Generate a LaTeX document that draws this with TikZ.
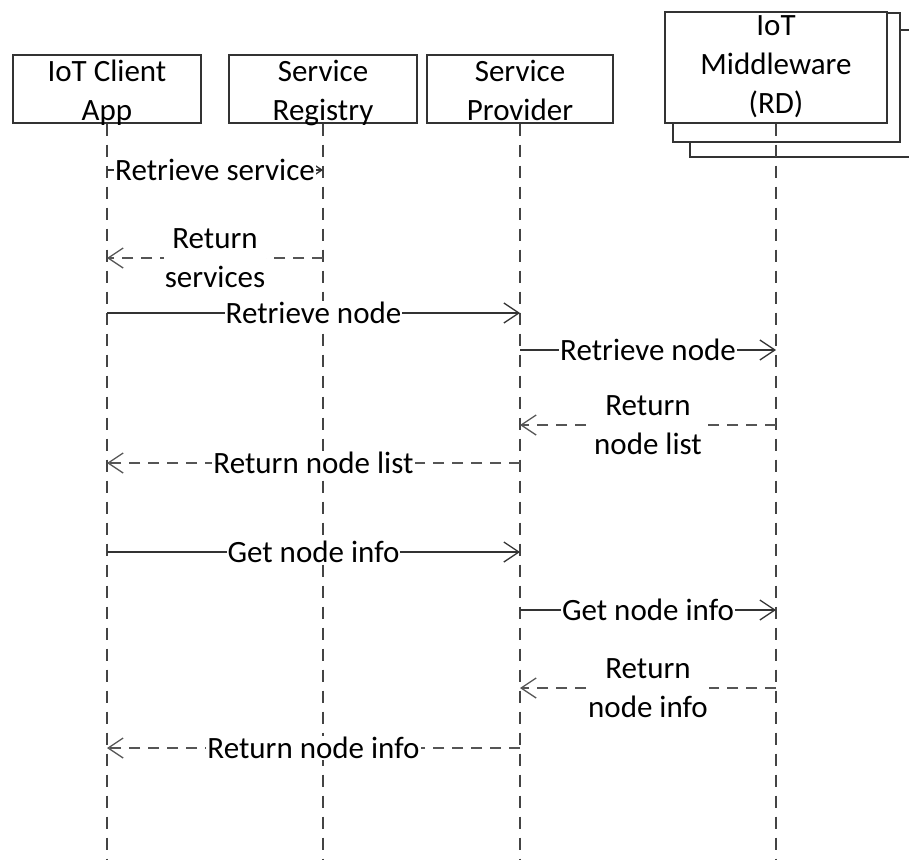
\documentclass[tikz,border=0pt]{standalone}
\usepackage{fontspec}
\setmainfont{Carlito}
\usetikzlibrary{arrows.meta}
\definecolor{ln}{HTML}{333333}
\definecolor{dl}{HTML}{444444}
\definecolor{rl}{HTML}{555555}
\begin{document}
\begin{tikzpicture}[x=1pt,y=-1pt,
  font=\fontsize{31}{39}\selectfont,
  box/.style={draw=ln, line width=1.3pt, fill=white, inner sep=0pt},
  boxtext/.style={align=center, inner sep=0pt, text=black, font=\fontsize{31}{39}\selectfont},
  life/.style={draw=dl, line width=1.3pt, dash pattern=on 12pt off 9pt},
  msg/.style={draw=ln, line width=1.3pt, -{Straight Barb[length=15pt,width=20pt]}},
  ret/.style={msg, draw=rl, dash pattern=on 11pt off 8pt},
  lbl/.style={fill=white, inner sep=1pt, align=center, text=black, font=\fontsize{31}{39}\selectfont}]
\useasboundingbox (0,0) rectangle (909,859);
% participants
\node[box, minimum width=188pt, minimum height=68pt] (client) at (107,89) {};
\node[boxtext] (clientT) at (107,93.5) {IoT Client\strut\\App\strut};
\node[box, minimum width=188pt, minimum height=68pt] (reg) at (323,89) {};
\node[boxtext] (regT) at (323,93.5) {Service\strut\\Registry\strut};
\node[box, minimum width=186pt, minimum height=68pt] (prov) at (520,89) {};
\node[boxtext] (provT) at (520,93.5) {Service\strut\\Provider\strut};
\node[box, minimum width=227pt, minimum height=127pt] (mw3) at (803.5,93.5) {};
\node[box, minimum width=227pt, minimum height=129pt] (mw2) at (786.5,77.5) {};
\node[box, minimum width=222pt, minimum height=111pt] (mw) at (776,67.5) {};
\node[boxtext] (mwT) at (776,67) {IoT\strut\\Middleware\strut\\(RD)\strut};
% lifeline ends
\coordinate (clientE) at (107,859);
\coordinate (regE) at (323,859);
\coordinate (provE) at (520,859);
\coordinate (mwE) at (776,859);
\draw[life] (client.south) -- (clientE);
\draw[life] (reg.south) -- (regE);
\draw[life] (prov.south) -- (provE);
\draw[life] (mw.south) -- (mwE);
% message end points
\coordinate (c1) at (107,170); \coordinate (r1) at (323,170);
\coordinate (c2) at (107,258); \coordinate (r2) at (323,258);
\coordinate (c3) at (107,313); \coordinate (p3) at (520,313);
\coordinate (p4) at (520,350); \coordinate (m4) at (776,350);
\coordinate (p5) at (520,425); \coordinate (m5) at (776,425);
\coordinate (c6) at (107,463); \coordinate (p6) at (520,463);
\coordinate (c7) at (107,552); \coordinate (p7) at (520,552);
\coordinate (p8) at (520,610); \coordinate (m8) at (776,610);
\coordinate (p9) at (520,688); \coordinate (m9) at (776,688);
\coordinate (c10) at (107,748); \coordinate (p10) at (520,748);
% messages
\draw[msg] (c1) -- node[lbl] (l1) {Retrieve service} (r1);
\draw[ret] (r2) -- node[lbl] (l2) {Return\\services} (c2);
\draw[msg] (c3) -- node[lbl] (l3) {Retrieve node} (p3);
\draw[msg] (p4) -- node[lbl] (l4) {Retrieve node} (m4);
\draw[ret] (m5) -- node[lbl] (l5) {Return\\node list} (p5);
\draw[ret] (p6) -- node[lbl] (l6) {Return node list} (c6);
\draw[msg] (c7) -- node[lbl] (l7) {Get node info} (p7);
\draw[msg] (p8) -- node[lbl] (l8) {Get node info} (m8);
\draw[ret] (m9) -- node[lbl] (l9) {Return\\node info} (p9);
\draw[ret] (p10) -- node[lbl] (l10) {Return node info} (c10);
\end{tikzpicture}
\end{document}
